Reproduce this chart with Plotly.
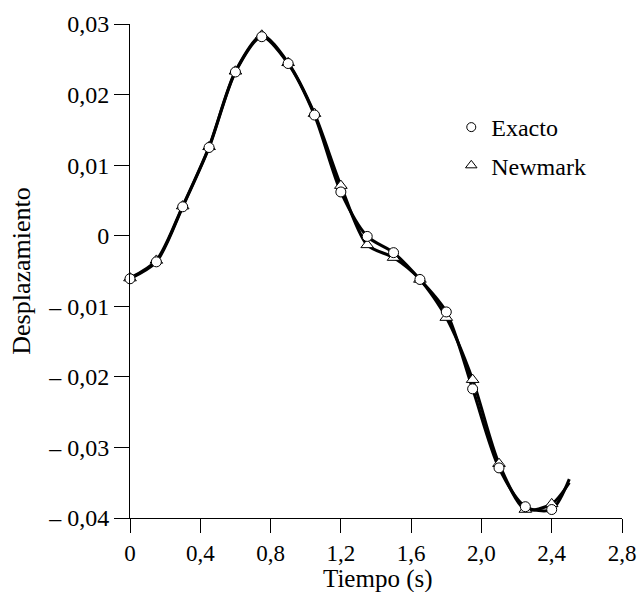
import plotly.graph_objects as go

t_points = [0, 0.15, 0.3, 0.45, 0.6, 0.75, 0.9, 1.05, 1.2, 1.35, 1.5, 1.65, 1.8, 1.95, 2.1, 2.25, 2.4]
exacto = [-0.0061, -0.0037, 0.0041, 0.0125, 0.0232, 0.0282, 0.0244, 0.0171, 0.0062, -0.0001,
          -0.0024, -0.0062, -0.0108, -0.0217, -0.0329, -0.0384, -0.0388]
newmark = [-0.0060, -0.0035, 0.0042, 0.0126, 0.0233, 0.0284, 0.0245, 0.0173, 0.0071, -0.0013,
           -0.0031, -0.0062, -0.0116, -0.0204, -0.0323, -0.0388, -0.0380]
t_end = 2.5
exacto_end = -0.0345
newmark_end = -0.0350

x_tickvals = [0, 0.4, 0.8, 1.2, 1.6, 2.0, 2.4, 2.8]
x_ticktext = ["0", "0,4", "0,8", "1,2", "1,6", "2,0", "2,4", "2,8"]
y_tickvals = [0.03, 0.02, 0.01, 0, -0.01, -0.02, -0.03, -0.04]
y_ticktext = ["0,03", "0,02", "0,01", "0", "– 0,01", "– 0,02", "– 0,03", "– 0,04"]
x_title = "Tiempo (s)"
y_title = "Desplazamiento"

FONT = "Liberation Serif"

fig = go.Figure()
# smooth lines
fig.add_trace(go.Scatter(x=t_points + [t_end], y=exacto + [exacto_end], mode="lines",
                         line=dict(color="black", width=3, shape="spline", smoothing=0.8),
                         showlegend=False, hoverinfo="skip"))
fig.add_trace(go.Scatter(x=t_points + [t_end], y=newmark + [newmark_end], mode="lines",
                         line=dict(color="black", width=3, shape="spline", smoothing=0.8),
                         showlegend=False, hoverinfo="skip"))
# markers
fig.add_trace(go.Scatter(x=t_points, y=newmark, mode="markers", name="Newmark", showlegend=False,
                         marker=dict(symbol="triangle-up", size=11, color="white",
                                     line=dict(color="black", width=1)),
                         cliponaxis=False))
fig.add_trace(go.Scatter(x=t_points, y=exacto, mode="markers", name="Exacto", showlegend=False,
                         marker=dict(symbol="circle", size=10, color="white",
                                     line=dict(color="black", width=1)),
                         cliponaxis=False))
# legend entries (smaller symbols, as in the reference)
fig.add_trace(go.Scatter(x=[None], y=[None], mode="markers", name="Exacto", legendgroup="a",
                         marker=dict(symbol="circle", size=9, color="white",
                                     line=dict(color="black", width=1))))
fig.add_trace(go.Scatter(x=[None], y=[None], mode="markers", name="Newmark", legendgroup="b",
                         marker=dict(symbol="triangle-up", size=10, color="white",
                                     line=dict(color="black", width=1))))

fig.update_layout(
    width=638, height=592, autosize=False,
    margin=dict(l=130, r=16, t=24, b=74),
    paper_bgcolor="white", plot_bgcolor="white",
    font=dict(family=FONT, color="black", size=24),
    legend=dict(x=0.653, y=0.836, xanchor="left", yanchor="top",
                traceorder="grouped", font=dict(size=24, family=FONT),
                bgcolor="rgba(0,0,0,0)", itemwidth=30, tracegroupgap=4),
    xaxis=dict(range=[0, 2.8], tickvals=x_tickvals, ticktext=x_ticktext, automargin=False,
               showgrid=False, zeroline=False, showline=True, linecolor="black", linewidth=1,
               ticks="outside", ticklen=14, tickcolor="black", tickfont=dict(size=23)),
    yaxis=dict(range=[-0.04, 0.03], tickvals=y_tickvals, ticktext=y_ticktext, automargin=False,
               showgrid=False, zeroline=False, showline=True, linecolor="black", linewidth=1,
               ticks="outside", ticklen=15, tickcolor="black",
               title=dict(text=y_title, font=dict(size=26), standoff=10)),
    annotations=[dict(text=x_title, xref="paper", yref="paper", x=0.505, y=0, yshift=-45,
                      xanchor="center", yanchor="top", showarrow=False,
                      font=dict(size=25, family=FONT, color="black"))],
)

fig.write_html("out.html",
               config={"displayModeBar": False, "responsive": False},
               post_script="document.documentElement.style.overflow='hidden';"
                           "document.body.style.margin='0px';document.body.style.overflow='hidden';")
